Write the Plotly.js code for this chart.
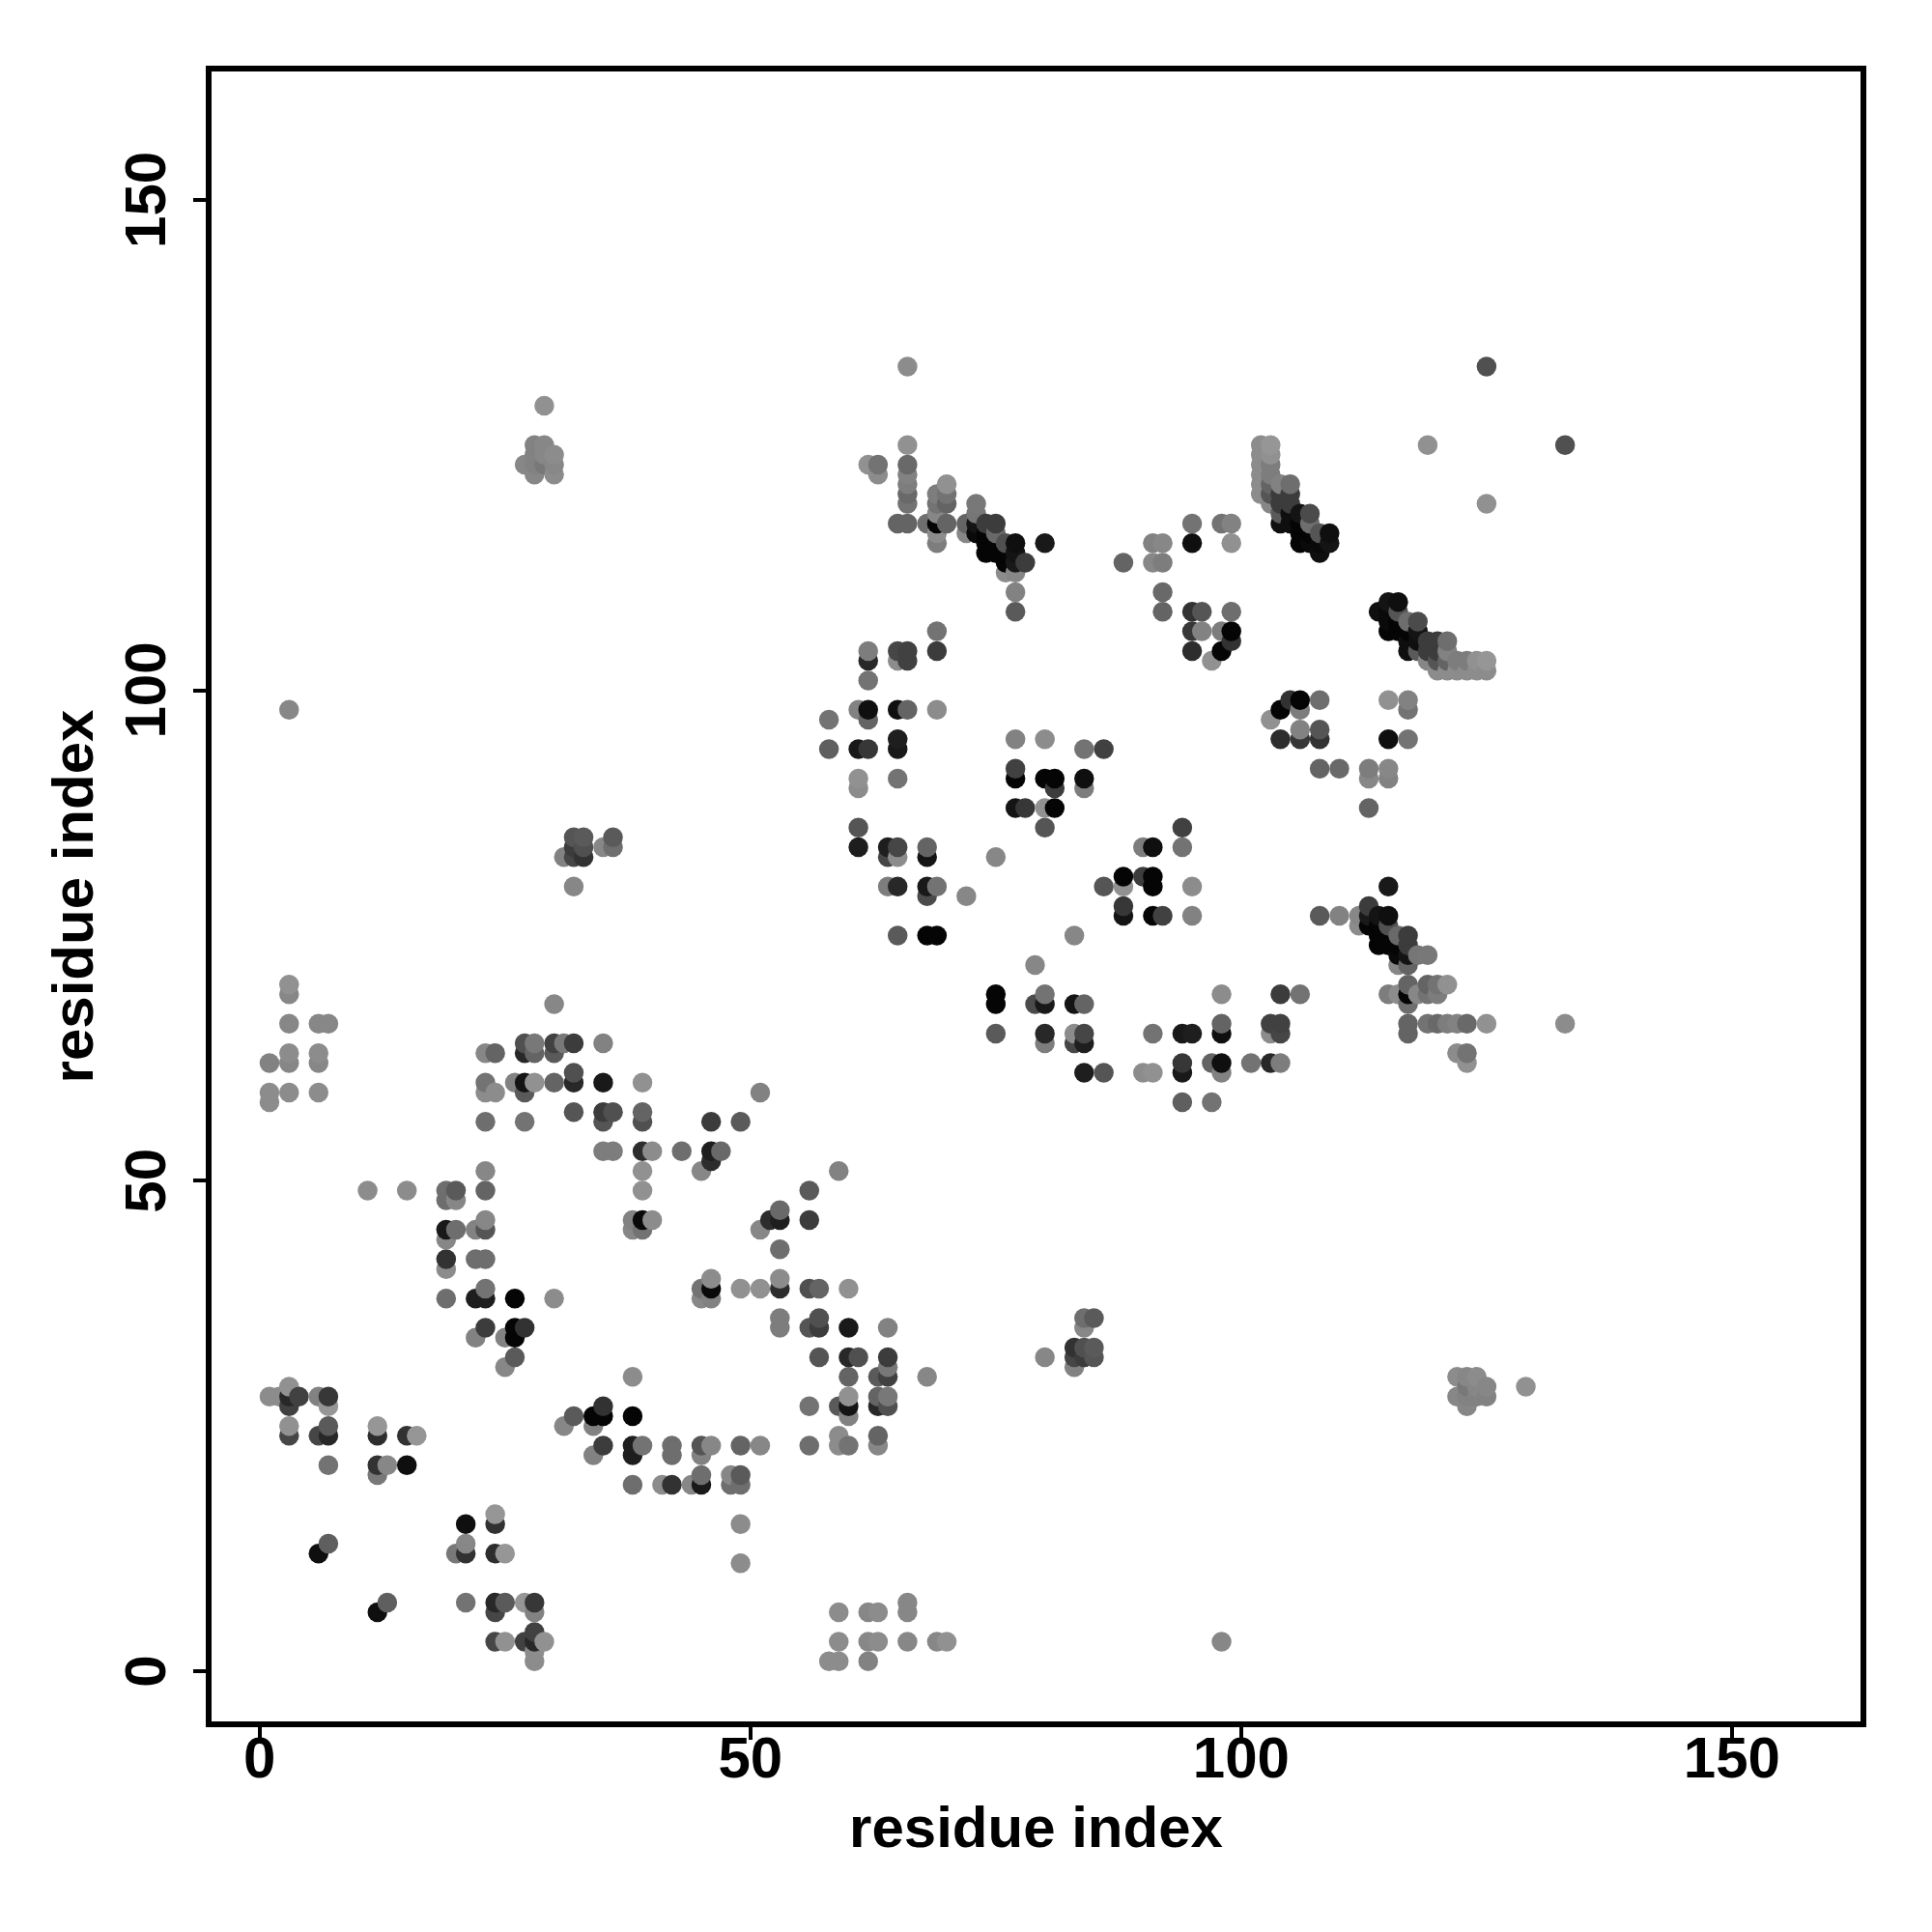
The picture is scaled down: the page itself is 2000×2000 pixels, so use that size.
<!DOCTYPE html>
<html>
<head>
<meta charset="utf-8">
<script src="https://cdn.plot.ly/plotly-3.0.1.min.js"></script>
<style>html,body{margin:0;padding:0;background:#fff}</style>
</head>
<body>
<div id="chart" style="width:2000px;height:2000px"></div>
<script>
const firstResidue = [1,2,3,4,6,7,11,12,13,15,16,19,20,22,23,24,25,26,27,28,29,30,31,32,33,35,36,38,39,40,43,45,46,47,49,51,58,61,62,63,64,65,66,68,69,70,72,73,74,75,76,77,78,80,81,84,86,88,91,92,95,96,97,98,99,102,103,104,105,106,107,108,109,119,125];
const partners = [
[28,58,59,62],[28],[24,25,27,28,29,59,62,63,66,69,70,98],[28],[12,24,28,59,62,63,66],[13,21,24,25,27,28,66],
[49],[20,21,24,25],[21],[21,24,49],[24],[38,41,42,44,45,48,49],[45,48,49],[34,38,42,45],
[35,38,39,42,45,46,49,51,56,59,60,63],[59,63],[31,34],[32,34,35,38,60],[35,56,59,60,63,64,123],
[60,63,64,122,123,124,125],[123,124,125,129],[38,60,63,64,68,122,123,124],[64,83],[57,60,61,64,80,83,84,85],
[83,84,85],[53,56,57,60,64,84],[53,57,84,85],[45,46],[45,46,49,51,53,56,57,60],[46,53],[53],[51],[52,53,56],[53],[56],[59],
[94,97],[84,86,90,91,94,98],[94,97,98,101,103,104,123],[122,123],[80,83,84],[75,80,83,84,91,94,95,98,103,104,117],
[98,103,104,117,119,120,121,122,123,125,133],[75,79,80,83,84,117],[75,80,98,104,106,115,116,117,118,119,120],[117,119,120,121],
[79,116,117],[116,117,118,119],[114,115,116,117],[83,114,115,116,117],[112,113,114,115],[88,91,92,95,108,110,112,113,114,115],
[88,113],[86,88,91,95,115],[88,90,91],[90,91,94],[94],[113],[113,115],[108,110,113,115],[104,106,108,115,117],[106,108],[103],
[104,106,117],[105,106,108,115,117],[120,121,122,123,124,125],[119,120,121,122,123,124,125],[117,118,119,120,121],
[117,118,119,120,121],[115,116,117,118],[115,116,117,118],[114,115,116],[115,116],[125],[133]
];
const grayLevels = [
[140,140,140,130],[140],[70,145,65,40,145,140,135,140,135,135,145,135],[65],[15,70,130,140,135,140,135],[95,115,40,90,150,55,135],
[140],[120,50,45,150],[135],[15,50,140],[150],[110,140,50,135,25,110,110],[110,135,90],[130,30,110,130],
[60,30,115,110,85,135,100,135,110,140,115,135],[140,100],[135,130],[90,5,5,5,130],[50,115,90,20,40,80,135],
[145,100,120,135,130,130,130],[120,135,135,145],[140,100,90,65,135,140,135,140],[120,130],[85,40,80,60,135,70,60,85],
[50,80,90],[125,85,60,25,130,135],[125,80,110,90],[135,130],[115,10,145,145,45,80,100,145],[140,140],[110],[135],[45,30,60],[105],[90],[130],
[95,115],[30,85,140,145,25,130],[55,100,15,115,40,125,145],[140,115],[125,70,30],[90,40,140,70,115,25,30,15,140,70,100],
[100,65,65,100,115,105,125,130,105,145,140],[5,75,25,20,100,110],[5,115,140,60,115,125,140,5,135,115,125],[100,100,115,145],
[135,135,100],[10,20,118,120],[5,5,5,60],[135,5,5,105,60],[140,5,5,80],[20,5,65,130,90,130,135,25,20,15],
[55,60],[85,145,5,140,25],[5,60,5],[125,15,115],[65],[100],[135,130],[100,105,125,135],[45,55,50,15,115],[130,85],[145],
[5,125,115],[50,5,110,145,130],[140,140,140,140,140,140],[135,85,100,125,125,145,150],[15,90,60,60,130],
[15,15,60,60,110],[5,5,5,20],[10,5,110,75],[15,10,85],[20,15],[145],[80]
];
const tickValues = [0,50,100,150];
const axisLabel = 'residue index';

// The contact map is symmetric: each contact is drawn at (a,b) and (b,a),
// in the order x ascending, then y ascending.
const contacts = [];
firstResidue.forEach((a,i)=>partners[i].forEach((b,j)=>{
  const g = grayLevels[i][j];
  contacts.push([a,b,g]); contacts.push([b,a,g]);
}));
contacts.sort((p,q)=>p[0]-q[0]||p[1]-q[1]);

const font = {family:'"Liberation Sans", Arial, sans-serif', size:60, color:'#000'};
const boldTitle = t => '<b>'+t+'</b>';
const axisBase = {
  tickmode:'array', tickvals:tickValues, ticktext:tickValues.map(v=>boldTitle(String(v))),
  showgrid:false, zeroline:false, showline:true, linecolor:'#000', linewidth:6, mirror:true,
  ticks:'outside', ticklen:13, tickwidth:4, tickcolor:'#000', tickfont:font
};
Plotly.newPlot('chart',[{
  type:'scatter', mode:'markers',
  x:contacts.map(p=>p[0]), y:contacts.map(p=>p[1]),
  marker:{size:20.5, line:{width:0}, color:contacts.map(p=>`rgb(${p[2]},${p[2]},${p[2]})`)}
}],{
  width:2000,height:2000,showlegend:false,
  paper_bgcolor:'#fff',plot_bgcolor:'#fff',
  margin:{l:219,r:74,t:74,b:218,pad:0},
  xaxis:Object.assign({},axisBase,{range:[-4.9,163.1],ticklabelstandoff:-33,title:{text:boldTitle(axisLabel),font:font,standoff:20}}),
  yaxis:Object.assign({},axisBase,{range:[-5.12,163.08],tickangle:-90,ticklabelstandoff:5,ticklabelshift:9,title:{text:boldTitle(axisLabel),font:font,standoff:3}})
},{displayModeBar:false,staticPlot:true});
</script>
</body>
</html>
